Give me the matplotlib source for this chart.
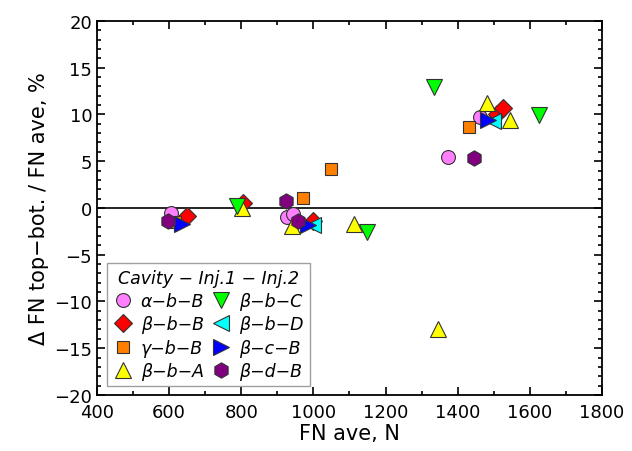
import matplotlib
matplotlib.use("Agg")
import matplotlib.pyplot as plt
from matplotlib.ticker import MultipleLocator

plt.rcParams['font.family'] = ['DejaVu Sans']

# Data per series: FN ave (N), delta FN (%)
alpha_bB_x = [604, 926, 944, 1374, 1462]
alpha_bB_y = [-0.5, -1.0, -0.65, 5.5, 9.7]
beta_bB_x = [649, 806, 1000, 1508, 1525]
beta_bB_y = [-0.9, 0.5, -1.4, 10.0, 10.7]
gamma_bB_x = [616, 970, 1050, 1432]
gamma_bB_y = [-1.5, 1.1, 4.2, 8.7]
beta_bA_x = [801, 940, 1113, 1345, 1482, 1545]
beta_bA_y = [0.0, -1.9, -1.7, -13.0, 11.2, 9.4]
beta_bC_x = [787, 1148, 1335, 1625]
beta_bC_y = [0.25, -2.6, 12.9, 9.9]
beta_bD_x = [1000, 1498]
beta_bD_y = [-1.8, 9.3]
beta_cB_x = [635, 986, 1485]
beta_cB_y = [-1.7, -1.8, 9.45]
beta_dB_x = [598, 924, 958, 1445]
beta_dB_y = [-1.45, 0.7, -1.45, 5.3]

series = [
    ("α−b−B", alpha_bB_x, alpha_bB_y, 'o', '#ff80ff', 10),
    ("β−b−B", beta_bB_x, beta_bB_y, 'D', '#ff0000', 9),
    ("γ−b−B", gamma_bB_x, gamma_bB_y, 's', '#ff8000', 9),
    ("β−b−A", beta_bA_x, beta_bA_y, '^', '#ffff00', 11),
    ("β−b−C", beta_bC_x, beta_bC_y, 'v', '#00ff00', 11),
    ("β−b−D", beta_bD_x, beta_bD_y, '<', '#00ffff', 11),
    ("β−c−B", beta_cB_x, beta_cB_y, '>', '#0000ff', 11),
    ("β−d−B", beta_dB_x, beta_dB_y, 'h', '#800080', 11),
]

fig = plt.figure(figsize=(6.32, 4.52), dpi=100)
ax = fig.add_axes([0.1535, 0.124, 0.799, 0.8275])

ax.axhline(0, color='black', lw=1.2, zorder=1)

for label, xs, ys, m, c, ms in series:
    ax.plot(xs, ys, linestyle='none', marker=m, markersize=ms,
            markerfacecolor=c, markeredgecolor='#333333', markeredgewidth=0.8,
            label=label, zorder=3)

ax.set_xlim(400, 1800)
ax.set_ylim(-20, 20)
ax.xaxis.set_major_locator(MultipleLocator(200))
ax.xaxis.set_minor_locator(MultipleLocator(100))
ax.yaxis.set_major_locator(MultipleLocator(5))
ax.yaxis.set_minor_locator(MultipleLocator(1))
ax.tick_params(which='both', direction='in', top=True, right=True, width=1.2)
ax.tick_params(which='major', length=6, labelsize=13)
ax.tick_params(axis='x', which='major', pad=6)
ax.tick_params(which='minor', length=3)
for s in ax.spines.values():
    s.set_linewidth(1.3)

ax.set_xlabel("FN ave, N", fontsize=15, labelpad=1)
ax.set_ylabel("Δ FN top−bot. / FN ave, %", fontsize=15, labelpad=4)

leg = ax.legend(loc='lower left', ncol=2, title="Cavity − Inj.1 − Inj.2",
                fontsize=12.5, title_fontsize=12.5, frameon=True, fancybox=False,
                edgecolor='#888888', handlelength=1.1, handletextpad=0.5,
                columnspacing=0.4, labelspacing=0.3, borderpad=0.35,
                borderaxespad=0, bbox_to_anchor=(0.02, 0.024))
leg.get_frame().set_linewidth(1.0)
leg.get_title().set_fontstyle('italic')
for t in leg.get_texts():
    t.set_fontstyle('italic')

fig.savefig("out.png", dpi=100)
